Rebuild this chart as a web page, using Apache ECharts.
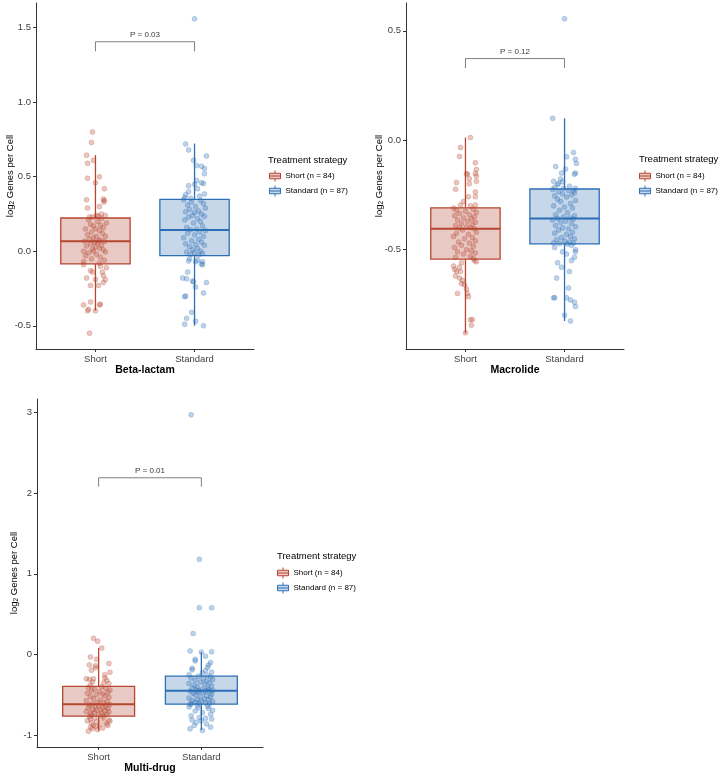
<!DOCTYPE html>
<html>
<head>
<meta charset="utf-8">
<script src="https://cdn.jsdelivr.net/npm/echarts@6/dist/echarts.min.js"></script>
<style>
  html, body { margin: 0; padding: 0; background: #fff; }
  #chart { width: 720px; height: 773px; }
</style>
</head>
<body>
<div id="chart"></div>
<script>
// categories and groups
const categories = ["Short", "Standard"];
const groups = ["Short (n = 84)", "Standard (n = 87)"];
const panels = ["Beta-lactam", "Macrolide", "Multi-drug"];
const pLabels = ["P = 0.03", "P = 0.12", "P = 0.01"];
// bracket [end, top] heights for each panel
const bracketY = [[1.342, 1.406], [0.33, 0.373], [2.08, 2.19]];
const yTicks = [[-0.5, 0, 0.5, 1, 1.5], [-0.5, 0, 0.5], [-1, 0, 1, 2, 3]];
const yRange = [[-0.656, 1.666], [-0.954, 0.627], [-1.146, 3.166]];

// box stats [min, q1, median, q3, max]
const betaShortBox = [-0.398, -0.085, 0.067, 0.223, 0.645];
const betaStandardBox = [-0.50, -0.03, 0.143, 0.348, 0.723];
const macroShortBox = [-0.882, -0.543, -0.405, -0.309, 0.012];
const macroStandardBox = [-0.826, -0.474, -0.358, -0.223, 0.10];
const multiShortBox = [-0.946, -0.764, -0.615, -0.396, 0.082];
const multiStandardBox = [-0.937, -0.615, -0.45, -0.269, 0.032];

// jittered points [jitter, value]
const betaShort = [
  [-0.03,0.80],[-0.04,0.73],[-0.09,0.645],[-0.02,0.61],[-0.08,0.59],[-0.08,0.49],[0.04,0.50],[0.00,0.46],[0.09,0.42],[-0.09,0.345],[0.08,0.35],[0.09,0.34],[0.085,0.33],[-0.08,0.29],[0.04,0.30],[0.01,0.24],[-0.06,0.23],[0.06,0.25],[0.10,0.24],[0.03,0.235],[-0.03,0.23],
  [0.06,0.22],[-0.07,0.21],[0.02,0.20],[0.11,0.19],[-0.05,0.18],[0.05,0.175],[-0.02,0.17],[0.08,0.16],[-0.10,0.15],[0.00,0.15],[0.04,0.14],[-0.04,0.13],[0.07,0.12],[-0.08,0.11],[0.01,0.10],[0.10,0.10],[-0.02,0.09],[-0.06,0.08],[0.05,0.075],[0.03,0.07],[-0.11,0.068],[0.09,0.065],[-0.01,0.06],[0.02,0.055],[-0.05,0.05],[0.06,0.04],[-0.09,0.035],[0.00,0.03],[0.04,0.02],[-0.03,0.015],[0.08,0.01],[-0.12,0.00],[-0.02,0.00],[0.10,-0.005],[-0.07,-0.01],[0.01,-0.02],[-0.10,-0.03],[0.05,-0.04],[-0.04,-0.05],[0.09,-0.06],[-0.12,-0.07],[0.04,-0.08],
  [-0.12,-0.09],[0.05,-0.10],[0.11,-0.11],[-0.05,-0.13],[-0.03,-0.14],[0.07,-0.14],[0.08,-0.165],[-0.09,-0.18],[0.00,-0.19],[0.10,-0.19],[0.08,-0.21],[-0.05,-0.23],[0.03,-0.23],[-0.05,-0.34],[-0.12,-0.36],[0.04,-0.36],[0.05,-0.355],[-0.07,-0.39],[-0.08,-0.40],[0.00,-0.40],[-0.06,-0.55]
];
const betaStandard = [
  [0.00,1.56],[-0.09,0.72],[-0.06,0.68],[0.12,0.64],[-0.01,0.61],[0.02,0.575],[0.07,0.57],[0.10,0.555],[0.10,0.52],[0.02,0.475],[0.07,0.46],[0.09,0.455],[-0.06,0.44],[0.00,0.45],[0.03,0.42],[-0.06,0.40],[-0.09,0.38],[-0.10,0.36],[0.10,0.385],[0.05,0.37],[-0.04,0.355],
  [-0.11,0.345],[0.06,0.34],[-0.03,0.33],[0.09,0.32],[-0.07,0.31],[0.01,0.30],[0.11,0.29],[-0.05,0.28],[0.04,0.27],[-0.09,0.265],[0.00,0.26],[0.07,0.25],[-0.02,0.24],[0.10,0.235],[-0.06,0.23],[0.03,0.22],[-0.10,0.21],[0.06,0.20],[-0.01,0.19],[0.08,0.17],[-0.08,0.16],[0.02,0.15],[-0.04,0.145],[0.11,0.14],[0.05,0.13],[-0.07,0.12],[0.00,0.11],[0.09,0.10],[-0.11,0.09],[0.04,0.08],[-0.03,0.07],[0.07,0.06],[-0.09,0.05],[0.01,0.045],[0.10,0.04],[-0.05,0.03],[0.03,0.02],[-0.02,0.01],[0.06,0.00],[-0.08,-0.005],[0.00,-0.01],[0.08,-0.015],[-0.04,-0.02],[0.04,-0.025],
  [-0.05,-0.05],[-0.06,-0.065],[0.01,-0.07],[0.07,-0.085],[0.08,-0.09],[-0.07,-0.14],[-0.12,-0.18],[-0.08,-0.185],[-0.02,-0.20],[-0.01,-0.205],[0.12,-0.21],[0.01,-0.24],[0.09,-0.28],[-0.09,-0.30],[-0.10,-0.305],[-0.03,-0.41],[-0.08,-0.45],[0.01,-0.47],[-0.10,-0.49],[0.09,-0.50],[0.08,-0.07],[0.03,-0.06]
];
const macroShort = [
  [0.05,0.012],[-0.05,-0.033],[-0.06,-0.074],[0.10,-0.103],[0.11,-0.134],[0.01,-0.153],[0.02,-0.155],[0.10,-0.152],[0.11,-0.164],[-0.09,-0.193],[0.04,-0.199],[0.04,-0.176],[0.11,-0.188],[-0.10,-0.224],[0.10,-0.237],[0.03,-0.258],[0.10,-0.258],[-0.02,-0.28],[0.10,-0.296],[-0.05,-0.296],[0.05,-0.30],
  [-0.12,-0.31],[0.08,-0.315],[-0.09,-0.32],[0.00,-0.325],[0.11,-0.33],[-0.06,-0.335],[0.04,-0.34],[-0.11,-0.345],[0.09,-0.35],[-0.02,-0.355],[0.06,-0.36],[-0.08,-0.365],[0.02,-0.37],[0.10,-0.375],[-0.04,-0.38],[0.07,-0.385],[-0.10,-0.39],[0.01,-0.395],[0.05,-0.40],[-0.06,-0.40],[0.09,-0.405],[-0.03,-0.41],[0.11,-0.42],[-0.09,-0.425],[0.03,-0.43],[-0.12,-0.44],[0.07,-0.445],[-0.01,-0.45],[0.10,-0.46],[-0.07,-0.465],[0.04,-0.47],[-0.04,-0.48],[0.08,-0.485],[-0.11,-0.49],[0.01,-0.50],[0.06,-0.505],[-0.08,-0.51],[0.10,-0.515],[-0.02,-0.52],[0.05,-0.53],[-0.10,-0.535],[0.08,-0.54],
  [0.09,-0.55],[0.11,-0.555],[-0.04,-0.56],[-0.12,-0.575],[-0.06,-0.58],[-0.11,-0.59],[-0.09,-0.60],[-0.05,-0.60],[-0.10,-0.62],[-0.06,-0.63],[-0.03,-0.64],[-0.04,-0.655],[-0.01,-0.66],[0.01,-0.68],[-0.08,-0.70],[0.02,-0.70],[0.03,-0.715],[0.05,-0.82],[0.07,-0.82],[0.06,-0.845],[0.00,-0.88]
];
const macroStandard = [
  [0.00,0.555],[-0.12,0.10],[0.09,-0.056],[0.02,-0.076],[0.11,-0.087],[0.12,-0.106],[-0.09,-0.12],[0.01,-0.132],[-0.03,-0.15],[0.11,-0.15],[0.10,-0.155],[-0.04,-0.177],[-0.11,-0.188],[-0.02,-0.19],[-0.06,-0.197],[-0.07,-0.203],[0.05,-0.21],[-0.10,-0.215],[0.11,-0.22],[-0.01,-0.22],[0.09,-0.23],
  [-0.12,-0.225],[0.04,-0.23],[-0.06,-0.235],[0.10,-0.24],[-0.02,-0.245],[0.07,-0.25],[-0.10,-0.255],[0.02,-0.26],[-0.07,-0.27],[0.11,-0.275],[-0.04,-0.28],[0.06,-0.29],[-0.11,-0.30],[0.00,-0.305],[0.08,-0.31],[-0.05,-0.32],[0.03,-0.33],[-0.09,-0.34],[0.10,-0.345],[-0.01,-0.35],[0.05,-0.355],[-0.07,-0.358],[0.09,-0.36],[-0.12,-0.365],[0.01,-0.37],[-0.04,-0.375],[0.07,-0.38],[-0.09,-0.39],[0.11,-0.395],[-0.02,-0.40],[0.04,-0.405],[-0.06,-0.41],[0.08,-0.42],[-0.10,-0.425],[0.02,-0.43],[0.06,-0.44],[-0.03,-0.445],[0.10,-0.45],[-0.08,-0.455],[0.00,-0.46],[0.05,-0.465],[-0.11,-0.47],[0.09,-0.47],[-0.05,-0.472],[0.03,-0.474],
  [0.07,-0.48],[-0.10,-0.49],[0.11,-0.50],[-0.02,-0.51],[0.11,-0.51],[0.02,-0.52],[0.10,-0.535],[0.07,-0.55],[-0.07,-0.56],[-0.03,-0.58],[0.05,-0.60],[-0.08,-0.63],[0.04,-0.675],[-0.11,-0.72],[-0.10,-0.72],[0.02,-0.72],[0.06,-0.73],[0.10,-0.74],[0.11,-0.76],[0.00,-0.80],[0.06,-0.826]
];
const multiShort = [
  [-0.05,0.20],[-0.01,0.165],[0.03,0.08],[-0.08,-0.03],[-0.02,-0.06],[0.10,-0.11],[-0.09,-0.13],[-0.03,-0.14],[-0.03,-0.165],[-0.07,-0.195],[0.11,-0.22],[0.06,-0.25],[0.06,-0.29],[-0.12,-0.30],[-0.05,-0.30],[-0.09,-0.31],[0.08,-0.32],[-0.06,-0.34],[0.05,-0.35],[0.10,-0.36],[-0.08,-0.38],
  [0.03,-0.40],[-0.10,-0.41],[0.07,-0.42],[-0.04,-0.43],[0.11,-0.44],[-0.07,-0.45],[0.01,-0.46],[0.09,-0.47],[-0.11,-0.48],[0.04,-0.49],[-0.02,-0.50],[0.06,-0.51],[-0.08,-0.52],[0.10,-0.53],[-0.05,-0.545],[0.02,-0.56],[-0.12,-0.57],[0.08,-0.58],[-0.01,-0.59],[0.05,-0.60],[-0.06,-0.61],[0.11,-0.62],[-0.09,-0.625],[0.00,-0.63],[0.07,-0.64],[-0.03,-0.65],[0.04,-0.655],[-0.10,-0.66],[0.09,-0.67],[-0.06,-0.68],[0.02,-0.685],[-0.02,-0.69],[0.06,-0.70],[-0.12,-0.705],[0.10,-0.71],[-0.04,-0.72],[0.03,-0.725],[-0.08,-0.73],[0.08,-0.74],[0.00,-0.745],[-0.07,-0.75],[0.05,-0.76],
  [-0.09,-0.77],[0.05,-0.78],[-0.04,-0.79],[-0.08,-0.80],[0.02,-0.80],[0.10,-0.81],[-0.11,-0.82],[0.11,-0.825],[-0.02,-0.83],[0.06,-0.84],[-0.07,-0.85],[0.08,-0.86],[0.01,-0.87],[-0.05,-0.875],[0.09,-0.88],[-0.03,-0.89],[-0.08,-0.90],[0.04,-0.91],[-0.06,-0.92],[-0.01,-0.93],[-0.10,-0.95]
];
const multiStandard = [
  [-0.10,2.97],[-0.02,1.18],[-0.02,0.58],[0.10,0.58],[-0.08,0.26],[-0.11,0.045],[0.10,0.035],[0.00,0.03],[0.04,-0.02],[-0.06,-0.06],[-0.06,-0.08],[0.09,-0.10],[0.07,-0.13],[0.06,-0.16],[-0.09,-0.17],[-0.09,-0.19],[0.04,-0.20],[0.10,-0.22],[0.01,-0.23],[-0.12,-0.25],[0.06,-0.26],
  [-0.03,-0.27],[0.09,-0.28],[-0.10,-0.29],[0.02,-0.30],[0.11,-0.31],[-0.06,-0.32],[0.05,-0.33],[-0.01,-0.34],[0.08,-0.35],[-0.12,-0.36],[0.03,-0.37],[-0.07,-0.38],[0.10,-0.39],[-0.04,-0.40],[0.06,-0.41],[-0.09,-0.42],[0.01,-0.43],[0.07,-0.435],[-0.05,-0.44],[0.11,-0.445],[-0.02,-0.45],[0.04,-0.45],[-0.11,-0.455],[0.08,-0.46],[-0.03,-0.465],[0.02,-0.47],[-0.08,-0.48],[0.10,-0.49],[-0.06,-0.50],[0.05,-0.51],[-0.01,-0.52],[0.09,-0.53],[-0.12,-0.54],[0.03,-0.55],[-0.04,-0.555],[0.07,-0.56],[-0.09,-0.57],[0.00,-0.58],[0.11,-0.585],[-0.06,-0.59],[0.04,-0.60],[-0.02,-0.60],[0.08,-0.61],[-0.10,-0.61],
  [-0.11,-0.62],[-0.04,-0.63],[0.06,-0.64],[-0.12,-0.65],[-0.03,-0.66],[0.07,-0.67],[0.11,-0.69],[-0.06,-0.70],[0.01,-0.72],[0.09,-0.74],[-0.10,-0.76],[-0.02,-0.78],[0.04,-0.79],[0.10,-0.80],[-0.09,-0.81],[0.00,-0.82],[-0.05,-0.84],[0.05,-0.86],[-0.07,-0.88],[0.09,-0.90],[-0.11,-0.92],[0.01,-0.94]
];

const boxes = [[betaShortBox, betaStandardBox], [macroShortBox, macroStandardBox], [multiShortBox, multiStandardBox]];
const points = [[betaShort, betaStandard], [macroShort, macroStandard], [multiShort, multiStandard]];

const strokes = ["#B8452F", "#2C6FB7"];
const fills = ["#E8C9C4", "#C6D7E9"];
const dots = ["rgba(184,69,47,0.38)", "rgba(44,111,183,0.38)"];
const dotBorders = ["rgba(184,69,47,0.55)", "rgba(44,111,183,0.55)"];
const boxHalf = 0.35;
const font = "'Liberation Sans', Arial, sans-serif";

const grids = [
  { left: 36, top: 3, width: 218, height: 346 },
  { left: 406, top: 3, width: 218, height: 346 },
  { left: 37, top: 399, width: 226, height: 348 },
];
const yNameGap = [20, 21, 17];
const legendPos = [[269, 170], [639, 170], [277, 567]];
const legendTitlePos = [[268, 155], [639, 154], [277, 551]];

function boxRenderer(k) {
  return function (params, api) {
    const x = api.value(0);
    const low = api.coord([x, api.value(1)]);
    const q1C = api.coord([x, api.value(2)]);
    const q3C = api.coord([x, api.value(4)]);
    const high = api.coord([x, api.value(5)]);
    const q3L = api.coord([x - boxHalf, api.value(4)]);
    const q1R = api.coord([x + boxHalf, api.value(2)]);
    const medL = api.coord([x - boxHalf, api.value(3)]);
    const medR = api.coord([x + boxHalf, api.value(3)]);
    const stroke = strokes[k];
    return {
      type: "group",
      children: [
        { type: "line", shape: { x1: high[0], y1: high[1], x2: q3C[0], y2: q3C[1] }, style: { stroke, lineWidth: 1.3 } },
        { type: "line", shape: { x1: q1C[0], y1: q1C[1], x2: low[0], y2: low[1] }, style: { stroke, lineWidth: 1.3 } },
        { type: "rect", shape: { x: q3L[0], y: q3L[1], width: q1R[0] - q3L[0], height: q1R[1] - q3L[1] }, style: { fill: fills[k], stroke, lineWidth: 1.3 } },
        { type: "line", shape: { x1: medL[0], y1: medL[1], x2: medR[0], y2: medR[1] }, style: { stroke, lineWidth: 2 } },
      ],
    };
  };
}

const keyIcon = "path://M0,3H12V9H0Z M6,0V3 M6,9V12 M0,6H12";

const xAxes = [], yAxes = [], series = [], legends = [], titles = [];
panels.forEach((panel, i) => {
  xAxes.push({
    type: "value", gridIndex: i, min: 0.4, max: 2.6,
    axisLine: { show: true, onZero: false, lineStyle: { color: "#333", width: 1 } },
    axisTick: { show: true, customValues: [1, 2], length: 3, lineStyle: { color: "#333" } },
    axisLabel: { customValues: [1, 2], formatter: (v) => categories[Math.round(v) - 1], fontSize: 9.5, color: "#3d3d3d", margin: 5, fontFamily: font },
    splitLine: { show: false },
    name: panel, nameLocation: "middle", nameGap: 16, nameMoveOverlap: false,
    nameTextStyle: { fontSize: 10.5, fontWeight: "bold", color: "#000", fontFamily: font },
  });
  yAxes.push({
    type: "value", gridIndex: i, min: yRange[i][0], max: yRange[i][1],
    axisLine: { show: true, onZero: false, lineStyle: { color: "#333", width: 1 } },
    axisTick: { show: true, customValues: yTicks[i], length: 3, lineStyle: { color: "#333" } },
    axisLabel: {
      customValues: yTicks[i], fontSize: 9.5, color: "#3d3d3d", margin: 5, fontFamily: font,
      formatter: (v) => (i < 2 ? v.toFixed(1) : String(v)),
    },
    splitLine: { show: false },
    name: "log{s|2} Genes per Cell", nameLocation: "middle", nameRotate: 90, nameGap: yNameGap[i],
    nameMoveOverlap: false,
    nameTextStyle: {
      fontSize: 9.5, color: "#000", fontFamily: font, lineHeight: 12,
      rich: { s: { fontSize: 6.5, lineHeight: 12, verticalAlign: "bottom", fontFamily: font, color: "#000" } },
    },
  });

  groups.forEach((g, k) => {
    series.push({
      type: "custom", name: g, xAxisIndex: i, yAxisIndex: i, z: 2,
      encode: { x: 0, y: [1, 2, 3, 4, 5] },
      renderItem: boxRenderer(k),
      data: [[k + 1].concat(boxes[i][k])],
    });
  });
  groups.forEach((g, k) => {
    series.push({
      type: "scatter", name: g, xAxisIndex: i, yAxisIndex: i, z: 3,
      symbolSize: 5,
      itemStyle: { color: dots[k], borderColor: dotBorders[k], borderWidth: 0.5 },
      data: points[i][k].map(([j, v]) => [k + 1 + j, v]),
    });
  });

  const [b0, b1] = bracketY[i];
  series.push({
    type: "line", name: "bracket" + i, xAxisIndex: i, yAxisIndex: i, silent: true,
    symbol: "none", lineStyle: { color: "#7f7f7f", width: 1 },
    data: [[1, b0], [1, b1], [2, b1], [2, b0]],
  });
  series.push({
    type: "scatter", name: "p" + i, xAxisIndex: i, yAxisIndex: i, silent: true,
    symbolSize: 0,
    label: { show: true, position: "top", distance: 3, formatter: pLabels[i], fontSize: 8, color: "#000", fontFamily: font },
    data: [[1.5, b1]],
  });

  legends.push({
    orient: "vertical", left: legendPos[i][0], top: legendPos[i][1], padding: 0,
    itemWidth: 11, itemHeight: 11, itemGap: 3,
    textStyle: { fontSize: 8, color: "#000", fontFamily: font },
    data: groups.map((g, k) => ({
      name: g, icon: keyIcon,
      itemStyle: { color: fills[k], borderColor: strokes[k], borderWidth: 1 },
    })),
  });
  titles.push({
    text: "Treatment strategy", left: legendTitlePos[i][0], top: legendTitlePos[i][1], padding: 0,
    textStyle: { fontSize: 9.5, fontWeight: "normal", color: "#000", fontFamily: font },
  });
});

const myChart = echarts.init(document.getElementById("chart"));
myChart.setOption({
  animation: false,
  backgroundColor: "#fff",
  textStyle: { fontFamily: font },
  title: titles,
  legend: legends,
  grid: grids.map((g) => Object.assign({ containLabel: false, outerBoundsMode: "none" }, g)),
  xAxis: xAxes,
  yAxis: yAxes,
  series: series,
});
</script>
</body>
</html>
